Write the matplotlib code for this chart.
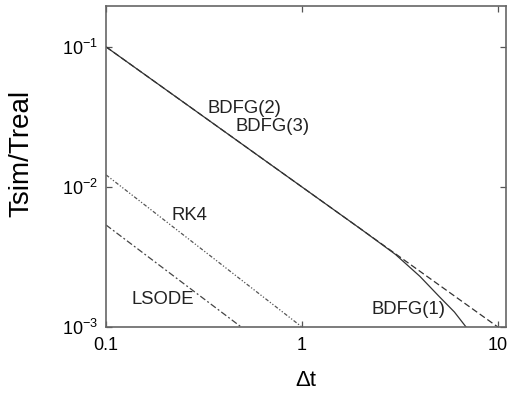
import matplotlib
matplotlib.use('Agg')
import matplotlib.pyplot as plt
import numpy as np

# series (log-log)
bdfg23_dt = [0.1, 10.0]
bdfg23_val = [0.1, 0.001]
bdfg1_dt = [0.1, 1.0, 2.0, 3.0, 4.0, 5.0, 6.0, 7.0]
bdfg1_val = [0.1, 0.01, 0.005, 0.0033, 0.0023, 0.00166, 0.00128, 0.00097]
rk4_dt = [0.1, 1.0]
rk4_val = [0.0122, 0.001]
lsode_dt = [0.1, 0.49]
lsode_val = [0.00535, 0.001]

xticks = [0.1, 1, 10]
xticklabels = ['0.1', '1', '10']
yticks = [1e-3, 1e-2, 1e-1]
yticklabels = [r'$10^{-3}$', r'$10^{-2}$', r'$10^{-1}$']

plt.rcParams['font.family'] = ['Liberation Sans', 'DejaVu Sans']
plt.rcParams['mathtext.fontset'] = 'custom'
plt.rcParams['mathtext.rm'] = 'Liberation Sans'
plt.rcParams['mathtext.it'] = 'Liberation Sans'

fig = plt.figure(figsize=(5.08, 3.94), dpi=100)
ax = fig.add_axes([0.2087, 0.170, 0.7873, 0.815])

col = '#333333'
ax.plot(bdfg23_dt, bdfg23_val, color=col, lw=0.9, ls=(0, (5, 2.5)))
ax.plot(bdfg1_dt, bdfg1_val, color=col, lw=0.9, ls='-')
ax.plot(rk4_dt, rk4_val, color='#555555', lw=0.9, ls=(0, (3, 1.5, 1, 1.5, 1, 1.5)))
ax.plot(lsode_dt, lsode_val, color='#444444', lw=0.9, ls=(0, (5, 2, 1.5, 2)))

ax.set_xscale('log')
ax.set_yscale('log')
ax.set_xlim(0.1, 11)
ax.set_ylim(0.001, 0.196)
ax.minorticks_off()
ax.set_xticks(xticks)
ax.set_xticklabels(xticklabels)
ax.set_yticks(yticks)
ax.set_yticklabels(yticklabels)
ax.tick_params(direction='in', top=True, right=True, length=4, width=0.9,
               color='#555555', labelsize=13)
ax.tick_params(axis='x', pad=7)
ax.tick_params(axis='y', pad=6)

for s in ax.spines.values():
    s.set_color('#666666')
    s.set_linewidth(1.2)

ax.set_xlabel('Δt', fontsize=16)
ax.xaxis.set_label_coords(0.5, -0.135)
ax.set_ylabel('Tsim/Treal', fontsize=20)
ax.yaxis.set_label_coords(-0.18, 0.542)

fs = 13.3
tc = '#222222'
ax.text(0.51, 0.0366, 'BDFG(2)', fontsize=fs, ha='center', va='center', color=tc)
ax.text(0.71, 0.0268, 'BDFG(3)', fontsize=fs, ha='center', va='center', color=tc)
ax.text(0.265, 0.0063, 'RK4', fontsize=fs, ha='center', va='center', color=tc)
ax.text(0.195, 0.00156, 'LSODE', fontsize=fs, ha='center', va='center', color=tc)
ax.text(3.48, 0.00134, 'BDFG(1)', fontsize=fs, ha='center', va='center', color=tc)

fig.savefig('out.png', dpi=100)
